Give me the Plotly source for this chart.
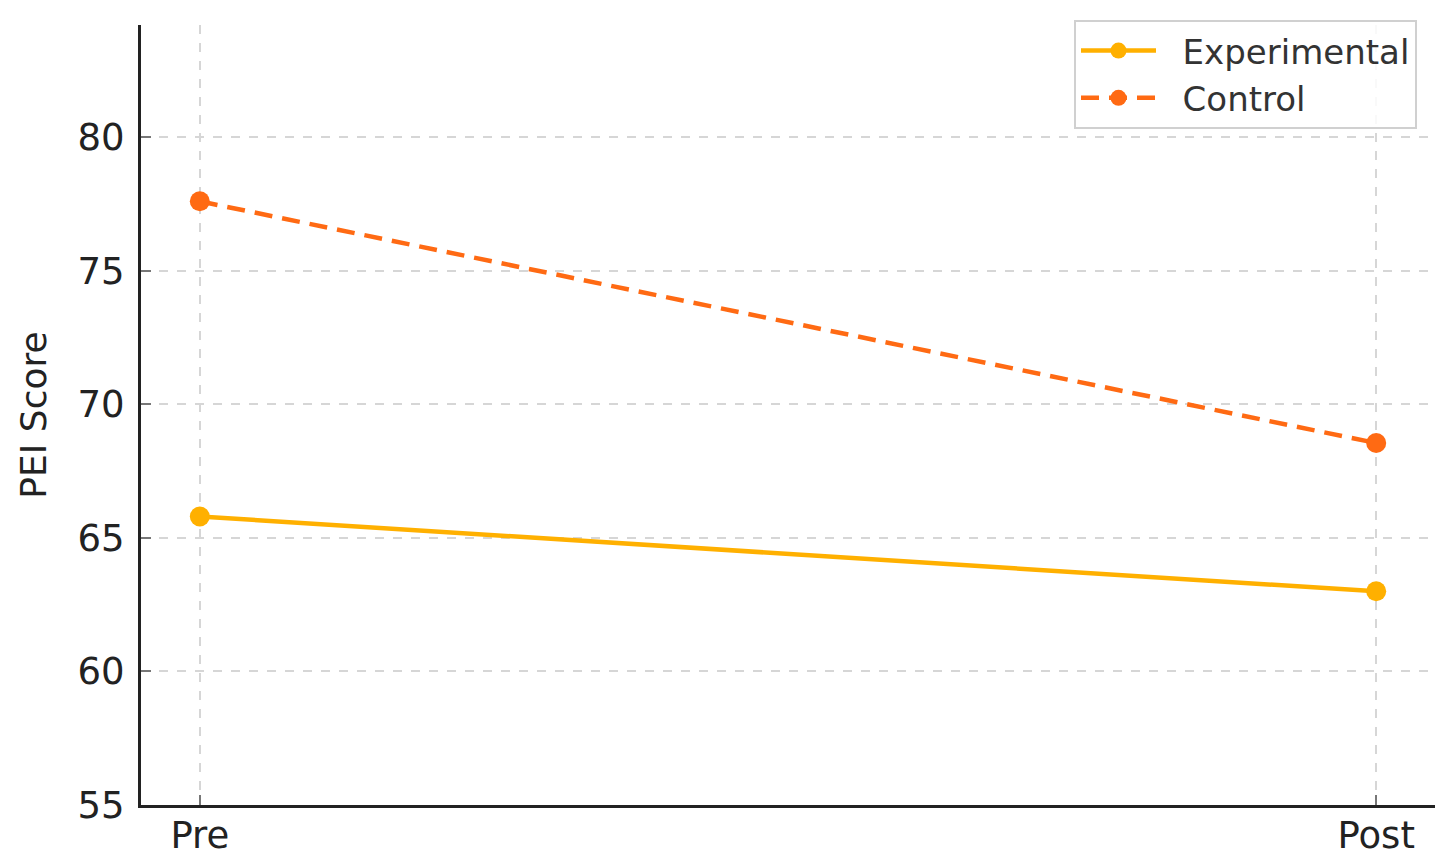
import plotly.graph_objects as go

timepoints = ["Pre", "Post"]
experimental = [65.8, 63.0]
control = [77.6, 68.55]
y_ticks = [55, 60, 65, 70, 75, 80]
series_names = ["\u00a0\u00a0Experimental", "\u00a0\u00a0Control"]

fig = go.Figure()
fig.add_trace(go.Scatter(
    x=timepoints, y=experimental, name=series_names[0], mode="lines+markers",
    line=dict(color="#FFB000", width=4.5), marker=dict(size=20, color="#FFB000"),
))
fig.add_trace(go.Scatter(
    x=timepoints, y=control, name=series_names[1], mode="lines+markers",
    line=dict(color="#FF6A13", width=4.5, dash="18px,10px"), marker=dict(size=20, color="#FF6A13"),
))

# page body has an 8px margin, so the figure is shrunk and margins offset by 8px
fig.update_layout(
    width=1430, height=848,
    margin=dict(l=133, r=3, t=17, b=51),
    plot_bgcolor="white", paper_bgcolor="white",
    font=dict(family="DejaVu Sans", color="#222222"),
    showlegend=True,
    legend=dict(
        x=1.0 - 18 / 1294, xanchor="right", y=1.0 + 5 / 780, yanchor="top",
        bgcolor="rgba(255,255,255,0.85)", bordercolor="#d0d0d0", borderwidth=2,
        font=dict(size=34, color="#333333"),
        itemwidth=75, tracegroupgap=0,
    ),
    xaxis=dict(
        type="category", range=[-0.05, 1.05], automargin=False,
        showline=True, linecolor="#222222", linewidth=3, mirror=False,
        showgrid=True, gridcolor="#d6d6d6", griddash="dash", gridwidth=1.5,
        ticks="inside", ticklen=10, tickcolor="#777777", tickwidth=2,
        tickfont=dict(size=37, color="#222222"), ticklabelstandoff=-4,
        zeroline=False,
    ),
    yaxis=dict(
        range=[55, 84.2], tickvals=y_ticks, automargin=False,
        showline=True, linecolor="#222222", linewidth=3, mirror=False,
        showgrid=True, gridcolor="#d6d6d6", griddash="dash", gridwidth=1.5,
        ticks="inside", ticklen=10, tickcolor="#777777", tickwidth=2,
        tickfont=dict(size=37, color="#222222"), ticklabelstandoff=6,
        title=dict(text="PEI Score", font=dict(size=36, color="#222222"), standoff=20),
        zeroline=False,
    ),
)

fig.write_html("out.html")
